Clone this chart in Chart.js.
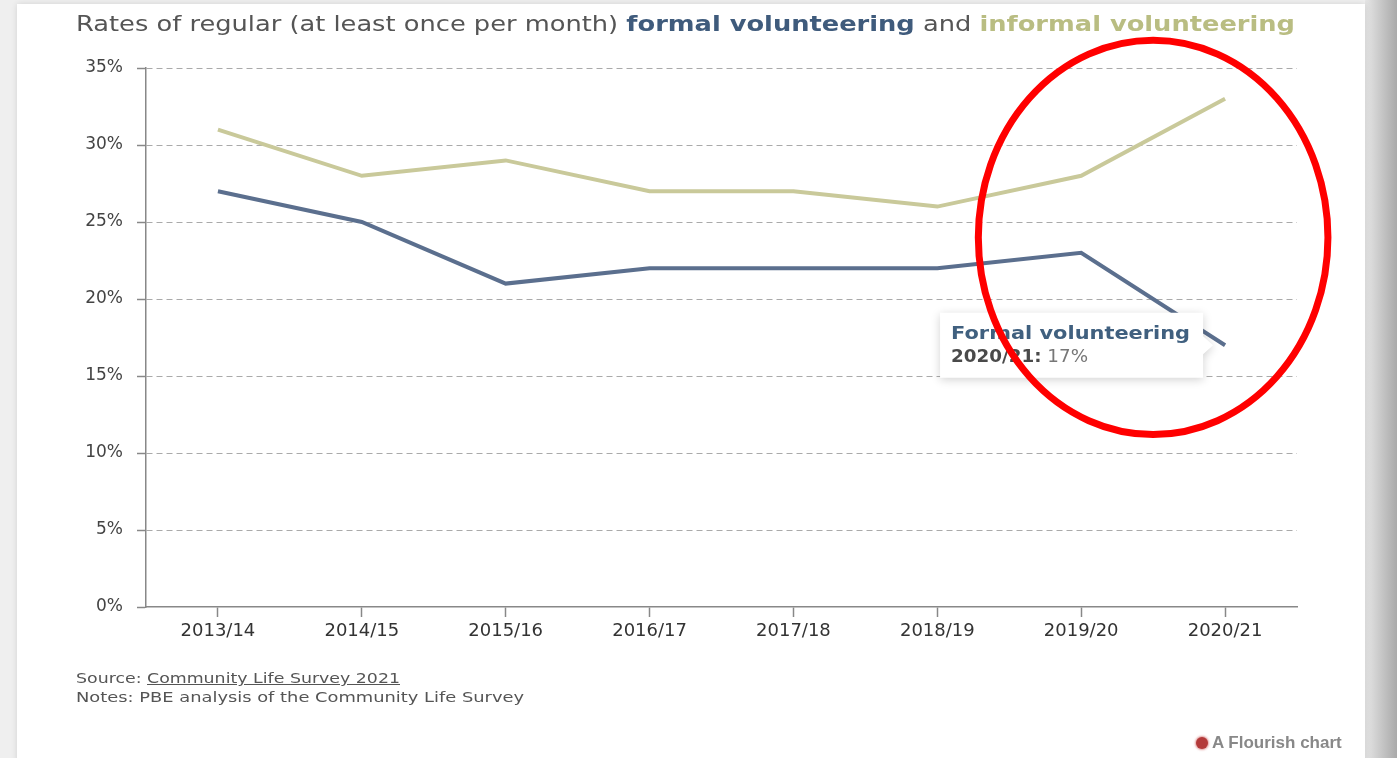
<!DOCTYPE html>
<html>
<head>
<meta charset="utf-8">
<script src="https://cdn.jsdelivr.net/npm/chart.js@4/dist/chart.umd.min.js"></script>
<style>
  html, body { margin: 0; padding: 0; }
  body {
    width: 1397px; height: 758px; overflow: hidden; position: relative;
    background: #efefef; font-family: "DejaVu Sans", sans-serif;
  }
  .edge {
    position: absolute; left: 1365px; top: 0; width: 32px; height: 758px;
    background: linear-gradient(to right, #e6e6e6, #a9a9a9);
  }
  .card {
    position: absolute; left: 17px; top: 4px; width: 1348px; height: 760px;
    background: #fff; box-shadow: 0 0 6px rgba(0,0,0,0.12);
  }
  #chart { position: absolute; left: 0; top: 0; }
  .title {
    position: absolute; left: 76px; top: 12px; font-size: 21px; color: #555;
    white-space: nowrap; transform-origin: 0 0;
  }
  .title b.formal { color: #3f5b7c; font-weight: 700; }
  .title b.informal { color: #b9bd82; font-weight: 700; }
  .line {
    position: absolute; left: 76px; font-size: 14px; color: #555;
    white-space: nowrap; transform-origin: 0 0;
  }
  .line u { text-decoration: underline; }
  .flourish {
    position: absolute; left: 1196px; top: 733px; font-size: 17px; color: #888;
    font-weight: 700; font-family: "Liberation Sans", sans-serif;
  }
  .flourish i {
    display: inline-block; width: 12px; height: 12px; border-radius: 50%;
    background: #b33a3a; vertical-align: -1px; margin-right: 4px;
    box-shadow: 0 0 2px 1px rgba(200,60,60,0.5);
  }
</style>
</head>
<body>
<div class="edge"></div>
<div class="card"></div>
<canvas id="chart" width="1397" height="758"></canvas>
<div class="title" id="title">Rates of regular (at least once per month) <b class="formal">formal volunteering</b> and <b class="informal">informal volunteering</b></div>
<div class="line" id="src" style="top:670px">Source: <u>Community Life Survey 2021</u></div>
<div class="line" id="note" style="top:689px">Notes: PBE analysis of the Community Life Survey</div>
<div class="flourish"><i></i>A Flourish chart</div>
<script>
const years = ['2013/14', '2014/15', '2015/16', '2016/17', '2017/18', '2018/19', '2019/20', '2020/21'];
const formal = [27, 25, 21, 22, 22, 22, 23, 17];
const informal = [31, 28, 29, 27, 27, 26, 28, 33];
const yTicks = [0, 5, 10, 15, 20, 25, 30, 35];

const formalColor = '#5b6f8e';
const informalColor = '#c9c99a';
const fontFamily = 'DejaVu Sans';

// the original font is wider, so stretch text to the same width
function fitWidth(el, target) {
  const w = el.getBoundingClientRect().width;
  el.style.transform = 'scaleX(' + (target / w) + ')';
}
fitWidth(document.getElementById('title'), 1219);
fitWidth(document.getElementById('src'), 324);
fitWidth(document.getElementById('note'), 448);

function stretchText(ctx, text, x, y, target) {
  const w = ctx.measureText(text).width;
  ctx.save();
  ctx.translate(x, y);
  ctx.scale(target / w, 1);
  ctx.fillText(text, 0, 0);
  ctx.restore();
}

// tooltip box for the last formal point, plus the red hand-drawn ellipse
const overlay = {
  id: 'overlay',
  afterDraw(chart) {
    const ctx = chart.ctx;
    const meta = chart.getDatasetMeta(0);
    const last = formal.length - 1;
    const pt = meta.data[last];
    const w = 263, h = 65;
    const right = pt.x - 22;
    const left = right - w;
    const top = pt.y - h / 2;

    ctx.save();
    ctx.shadowColor = 'rgba(0,0,0,0.18)';
    ctx.shadowBlur = 10;
    ctx.shadowOffsetY = 2;
    ctx.fillStyle = '#fff';
    ctx.beginPath();
    ctx.moveTo(left, top);
    ctx.lineTo(right, top);
    ctx.lineTo(right, pt.y - 9);
    ctx.lineTo(right + 10, pt.y);
    ctx.lineTo(right, pt.y + 9);
    ctx.lineTo(right, top + h);
    ctx.lineTo(left, top + h);
    ctx.closePath();
    ctx.fill();
    ctx.restore();

    ctx.save();
    ctx.textBaseline = 'middle';
    ctx.font = 'bold 18px "' + fontFamily + '"';
    ctx.fillStyle = '#40607f';
    stretchText(ctx, 'Formal volunteering', left + 11, top + 22, 239);
    const lbl = years[last] + ':';
    const val = ' ' + formal[last] + '%';
    ctx.font = 'bold 17px "' + fontFamily + '"';
    const lw = ctx.measureText(lbl).width;
    ctx.font = '17px "' + fontFamily + '"';
    const vw = ctx.measureText(val).width;
    const k = 137 / (lw + vw);
    ctx.translate(left + 11, top + 45);
    ctx.scale(k, 1);
    ctx.font = 'bold 17px "' + fontFamily + '"';
    ctx.fillStyle = '#4a4a4a';
    ctx.fillText(lbl, 0, 0);
    ctx.font = '17px "' + fontFamily + '"';
    ctx.fillStyle = '#777';
    ctx.fillText(val, lw, 0);
    ctx.restore();

    // red ellipse around the last two years
    const xs = chart.scales.x, ys = chart.scales.y;
    const cx = (xs.getPixelForValue(last - 1) + xs.getPixelForValue(last)) / 2;
    const cy = ys.getPixelForValue(24);
    const rx = (xs.getPixelForValue(last) - xs.getPixelForValue(last - 1)) * 1.215;
    const ry = ys.getPixelForValue(0) - ys.getPixelForValue(12.8);
    ctx.save();
    ctx.strokeStyle = '#ff0000';
    ctx.lineWidth = 7;
    ctx.beginPath();
    ctx.ellipse(cx, cy, rx, ry, 0, 0, Math.PI * 2);
    ctx.stroke();
    ctx.restore();
  }
};

new Chart(document.getElementById('chart'), {
  type: 'line',
  data: {
    labels: years,
    datasets: [
      {
        label: 'Formal volunteering',
        data: formal,
        borderColor: formalColor,
        borderWidth: 4,
        pointRadius: 0,
        tension: 0
      },
      {
        label: 'Informal volunteering',
        data: informal,
        borderColor: informalColor,
        borderWidth: 4,
        pointRadius: 0,
        tension: 0
      }
    ]
  },
  options: {
    responsive: false,
    animation: false,
    events: [],
    layout: { padding: { left: 0, top: 68, right: 100, bottom: 0 } },
    plugins: {
      legend: { display: false },
      tooltip: { enabled: false }
    },
    scales: {
      x: {
        offset: true,
        afterFit: scale => { scale.height = 151; },
        grid: {
          drawOnChartArea: false,
          drawTicks: true,
          tickLength: 10,
          tickColor: '#888',
          tickWidth: 1.5,
          offset: false
        },
        border: { color: '#888', width: 1.5 },
        ticks: {
          color: '#333',
          font: { family: fontFamily, size: 18 },
          padding: 4,
          maxRotation: 0
        }
      },
      y: {
        min: 0,
        max: 35,
        afterFit: scale => { scale.width = 146; },
        afterBuildTicks: scale => { scale.ticks = yTicks.map(v => ({ value: v })); },
        grid: {
          color: ctx => (ctx.tick && ctx.tick.value === 0) ? 'rgba(0,0,0,0)' : '#aaa',
          lineWidth: 1,
          tickBorderDash: [],
          tickColor: '#888',
          tickLength: 9,
          tickWidth: 1.5
        },
        border: { color: '#888', width: 1.5, dash: [6, 4] },
        ticks: {
          color: '#444',
          font: { family: fontFamily, size: 17 },
          padding: 14,
          callback: v => v + '%'
        }
      }
    }
  },
  plugins: [overlay]
});
</script>
</body>
</html>
